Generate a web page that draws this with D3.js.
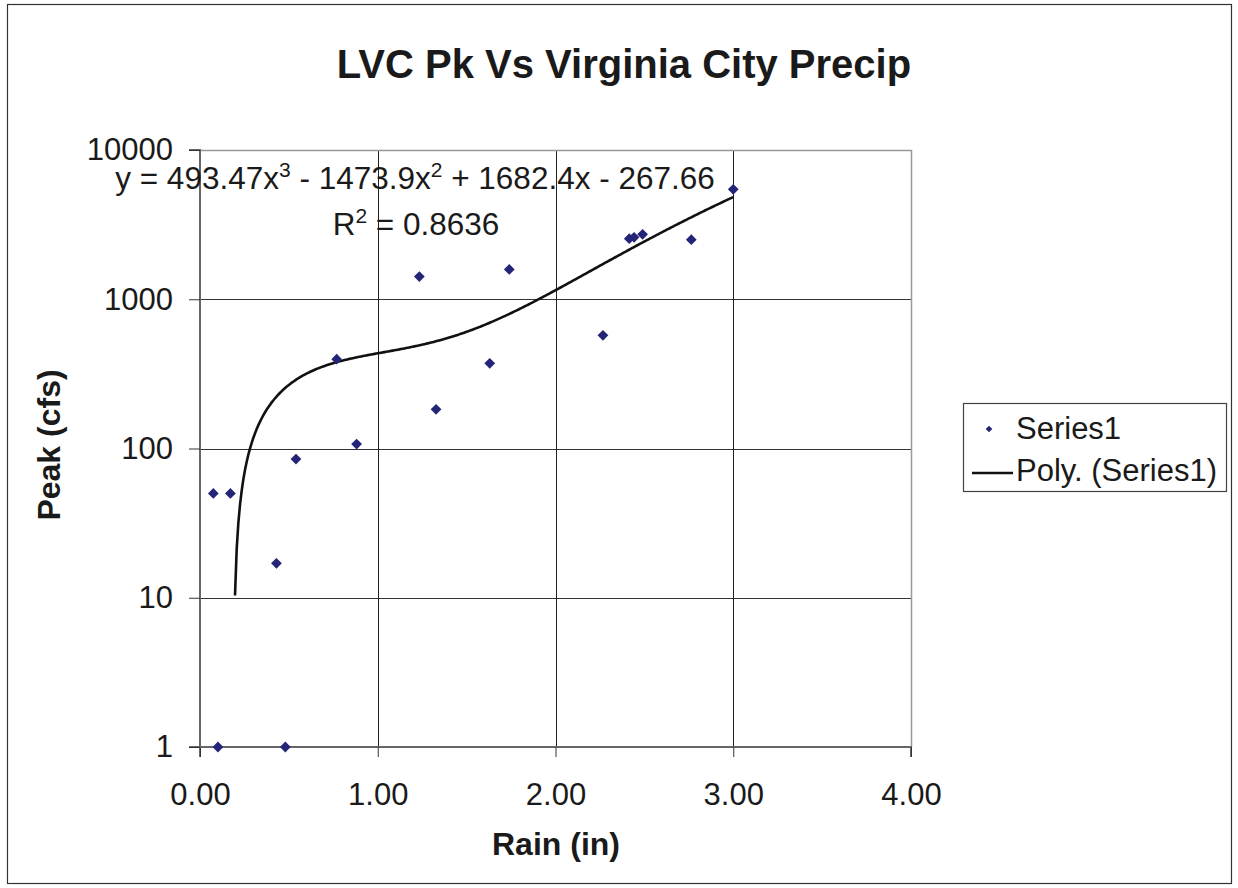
<!DOCTYPE html>
<html>
<head>
<meta charset="utf-8">
<script src="https://cdn.jsdelivr.net/npm/d3@7"></script>
<style>
  html, body { margin: 0; padding: 0; background: #fff; }
  svg { display: block; font-family: Arial, "Liberation Sans", sans-serif; }
</style>
</head>
<body>
<svg id="chart" width="1238" height="888"></svg>
<script>
// ---- data ----
const rain = [0.075, 0.171, 0.101, 0.430, 0.480, 0.540, 0.769, 0.881, 1.234, 1.328, 1.630, 1.740, 2.267, 2.415, 2.442, 2.490, 2.764, 3.000];
const peak = [50, 50, 1, 17, 1, 85, 397, 107, 1420, 183, 372, 1585, 573, 2545, 2600, 2723, 2505, 5450];
const xTicks = [0, 1, 2, 3, 4];
const yTicks = [1, 10, 100, 1000, 10000];
const polyCoef = [493.47, -1473.9, 1682.4, -267.66]; // x^3, x^2, x, const
const trendRange = [0.197, 3.0];
const titleText = "LVC Pk Vs Virginia City Precip";
const xTitle = "Rain (in)";
const yTitle = "Peak (cfs)";
const seriesName = "Series1";
const trendName = "Poly. (Series1)";
const r2Text = "0.8636";

// ---- layout ----
const svg = d3.select("#chart");
const L = 200, R = 911, T = 150, B = 747;
const x = d3.scaleLinear().domain([0, 4]).range([L, R]);
const y = d3.scaleLog().domain([1, 10000]).range([B, T]);

// outer border
svg.append("rect").attr("x", 7.5).attr("y", 4.5).attr("width", 1224).attr("height", 879)
  .attr("fill", "#fff").attr("stroke", "#333").attr("stroke-width", 1.2);

// gridlines
svg.append("g").selectAll("line").data(yTicks.filter(d => d > 1 && d < 10000)).join("line")
  .attr("x1", L).attr("x2", R).attr("y1", d => Math.round(y(d)) + 0.5).attr("y2", d => Math.round(y(d)) + 0.5)
  .attr("stroke", "#333").attr("stroke-width", 1);
svg.append("g").selectAll("line").data(xTicks.filter(d => d > 0 && d < 4)).join("line")
  .attr("y1", T).attr("y2", B).attr("x1", d => Math.round(x(d)) + 0.5).attr("x2", d => Math.round(x(d)) + 0.5)
  .attr("stroke", "#222").attr("stroke-width", 1);

// plot border top/right
svg.append("path").attr("d", `M${L},${T + 0.5}H${R + 0.5}V${B}`).attr("fill", "none")
  .attr("stroke", "#999").attr("stroke-width", 1.5);

// axes
const xAxis = d3.axisBottom(x).tickValues(xTicks).tickFormat(d3.format(".2f")).tickSize(10).tickPadding(26);
const yAxis = d3.axisLeft(y).tickValues(yTicks).tickFormat(d3.format("d")).tickSize(11).tickPadding(16);
const gx = svg.append("g").attr("transform", `translate(0,${B})`).call(xAxis);
const gy = svg.append("g").attr("transform", `translate(${L},0)`).call(yAxis);
[gx, gy].forEach(g => {
  g.select(".domain").attr("stroke", "#666").attr("stroke-width", 2);
  g.selectAll(".tick line").attr("stroke", "#333").attr("stroke-width", 1);
  g.selectAll("text").attr("fill", "#1a1a1a").style("font-size", "31px")
    .style("font-family", "Arial, 'Liberation Sans', sans-serif");
});
gy.select(".domain").attr("d", `M-11,${y(10000)}H0V${y(1)}H-11`);
gx.select(".domain").attr("d", `M${x(0)},10V0H${x(4)}V10`);

// trendline
const poly = v => polyCoef[0] * v * v * v + polyCoef[1] * v * v + polyCoef[2] * v + polyCoef[3];
const trendX = d3.range(trendRange[0], trendRange[1] + 1e-9, (trendRange[1] - trendRange[0]) / 300);
svg.append("path").datum(trendX.map(v => [v, poly(v)]).filter(d => d[1] > 0))
  .attr("fill", "none").attr("stroke", "#111").attr("stroke-width", 2.6)
  .attr("d", d3.line().x(d => x(d[0])).y(d => y(d[1])));

// points
svg.append("g").selectAll("path").data(rain.map((r, i) => [r, peak[i]])).join("path")
  .attr("transform", d => `translate(${x(d[0])},${y(d[1])}) rotate(45)`)
  .attr("d", d3.symbol().type(d3.symbolSquare).size(58))
  .attr("fill", "#242478");

// equation labels
const eq = svg.append("text").attr("x", 415).attr("y", 189).attr("text-anchor", "middle")
  .style("font-size", "31.5px").attr("fill", "#1a1a1a");
const parts = [["y = 493.47x", 0], ["3", 1], [" - 1473.9x", 0], ["2", 1], [" + 1682.4x - 267.66", 0]];
parts.forEach(([t, sup], i) => {
  const ts = eq.append("tspan").text(t);
  if (sup) ts.style("font-size", "21px").attr("dy", -12);
  else if (i > 0) ts.attr("dy", 12);
});
const r2 = svg.append("text").attr("x", 416).attr("y", 235).attr("text-anchor", "middle")
  .style("font-size", "31.5px").attr("fill", "#1a1a1a");
r2.append("tspan").text("R");
r2.append("tspan").text("2").style("font-size", "21px").attr("dy", -12);
r2.append("tspan").text(" = " + r2Text).attr("dy", 12);

// titles
svg.append("text").attr("x", 624).attr("y", 78).attr("text-anchor", "middle")
  .style("font-size", "40px").style("font-weight", "bold").attr("fill", "#1a1a1a").text(titleText);
svg.append("text").attr("x", 556).attr("y", 855).attr("text-anchor", "middle")
  .style("font-size", "32px").style("font-weight", "bold").attr("fill", "#1a1a1a").text(xTitle);
svg.append("text").attr("transform", "translate(60,445) rotate(-90)").attr("text-anchor", "middle")
  .style("font-size", "32px").style("font-weight", "bold").attr("fill", "#1a1a1a").text(yTitle);

// legend
const lg = svg.append("g");
lg.append("rect").attr("x", 963.5).attr("y", 403.5).attr("width", 263).attr("height", 88)
  .attr("fill", "#fff").attr("stroke", "#444").attr("stroke-width", 1.2);
lg.append("path").attr("transform", "translate(989,429) rotate(45)")
  .attr("d", d3.symbol().type(d3.symbolSquare).size(22)).attr("fill", "#242478");
lg.append("text").attr("x", 1016).attr("y", 439).style("font-size", "31px").attr("fill", "#1a1a1a").text(seriesName);
lg.append("line").attr("x1", 972).attr("x2", 1013).attr("y1", 473).attr("y2", 473)
  .attr("stroke", "#111").attr("stroke-width", 2.6);
lg.append("text").attr("x", 1016).attr("y", 481).style("font-size", "31px").attr("fill", "#1a1a1a").text(trendName);
</script>
</body>
</html>
